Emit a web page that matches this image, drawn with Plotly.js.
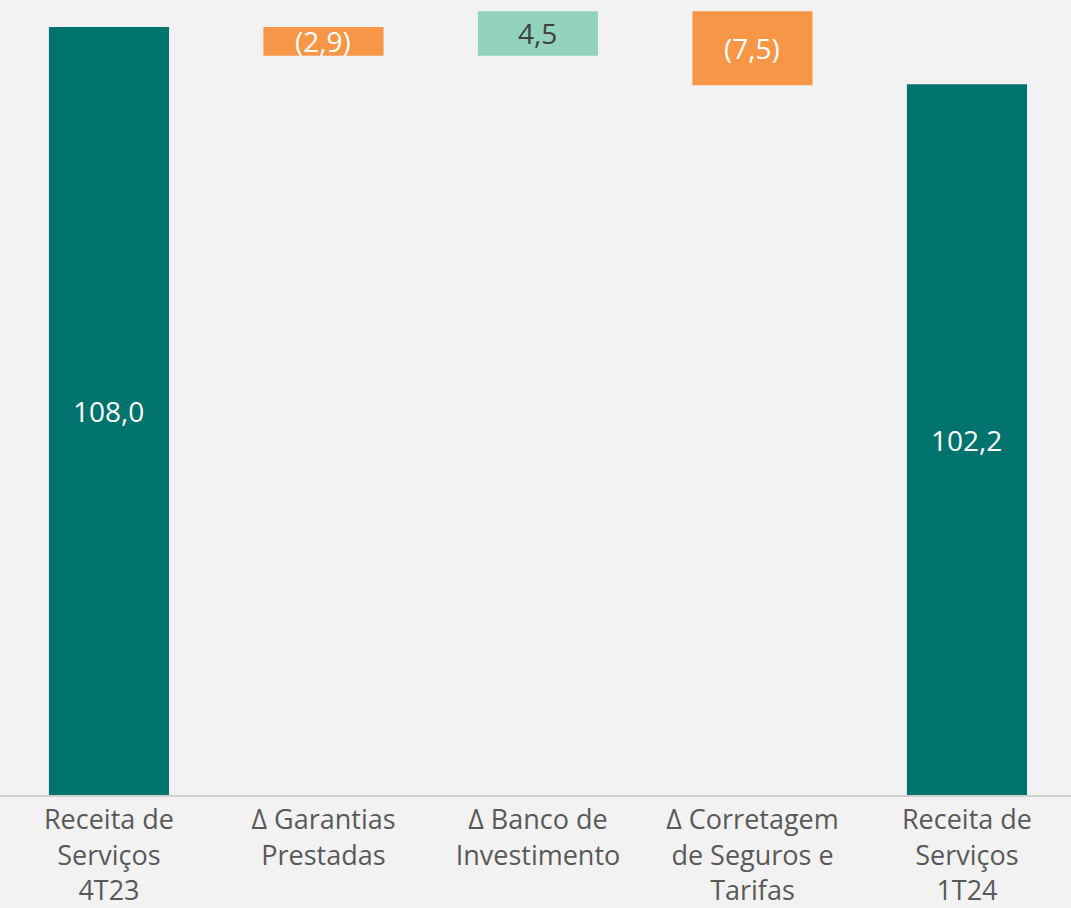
<!DOCTYPE html>
<html>
<head>
<meta charset="utf-8">
<script src="https://cdn.plot.ly/plotly-3.0.1.min.js"></script>
<style>html,body{margin:0;padding:0;background:#f2f2f2;}#chart{width:1071px;height:908px;}</style>
</head>
<body>
<div id="chart"></div>
<script>
const categories = [
  'Receita de<br>Serviços<br>4T23',
  'Δ Garantias<br>Prestadas',
  'Δ Banco de<br>Investimento',
  'Δ Corretagem<br>de Seguros e<br>Tarifas',
  'Receita de<br>Serviços<br>1T24'
];
const values = [108.0, -2.9, 4.5, -7.5, 102.2];
const measures = ['absolute', 'relative', 'relative', 'relative', 'absolute'];
const labels = ['108,0', '(2,9)', '4,5', '(7,5)', '102,2'];
const labelColors = ['#ffffff', '#ffffff', '#404040', '#ffffff', '#ffffff'];

const yMin = 30, yMax = 110.75;
const FONT = '"Open Sans", Lato, sans-serif';

const trace = {
  type: 'waterfall',
  x: categories,
  y: values,
  measure: measures,
  textposition: 'none',
  hoverinfo: 'none',
  connector: {visible: false},
  increasing: {marker: {color: '#93d3bd'}},
  decreasing: {marker: {color: '#f79646'}},
  totals: {marker: {color: '#00736e'}}
};

// label positions derived from the data (centre of each visible bar)
const annotations = [];
let running = 0;
values.forEach((v, i) => {
  let lo, hi;
  if (measures[i] === 'absolute') {
    running = v; lo = 0; hi = v;
  } else {
    lo = running; hi = running + v; running = hi;
  }
  const a = Math.max(Math.min(lo, hi), yMin), b = Math.max(lo, hi);
  annotations.push({
    x: categories[i], y: (a + b) / 2, xref: 'x', yref: 'y',
    text: labels[i], showarrow: false,
    font: {family: FONT, size: 28, color: labelColors[i]},
    xanchor: 'center', yanchor: 'middle'
  });
});

const layout = {
  width: 1071,
  height: 908,
  margin: {l: 0, r: 0, t: 0, b: 113},
  paper_bgcolor: '#f2f2f2',
  plot_bgcolor: '#f2f2f2',
  showlegend: false,
  waterfallgap: 0.44,
  font: {family: FONT, color: '#595959'},
  annotations: annotations,
  xaxis: {
    type: 'category',
    range: [-0.508, 4.485],
    showline: true,
    linecolor: '#d0d0d0',
    linewidth: 2,
    ticks: '',
    tickfont: {family: FONT, size: 27, color: '#595959'},
    showgrid: false,
    zeroline: false
  },
  yaxis: {
    range: [yMin, yMax],
    visible: false,
    showgrid: false,
    zeroline: false
  }
};

Plotly.newPlot('chart', [trace], layout, {displayModeBar: false, staticPlot: true});
</script>
</body>
</html>
